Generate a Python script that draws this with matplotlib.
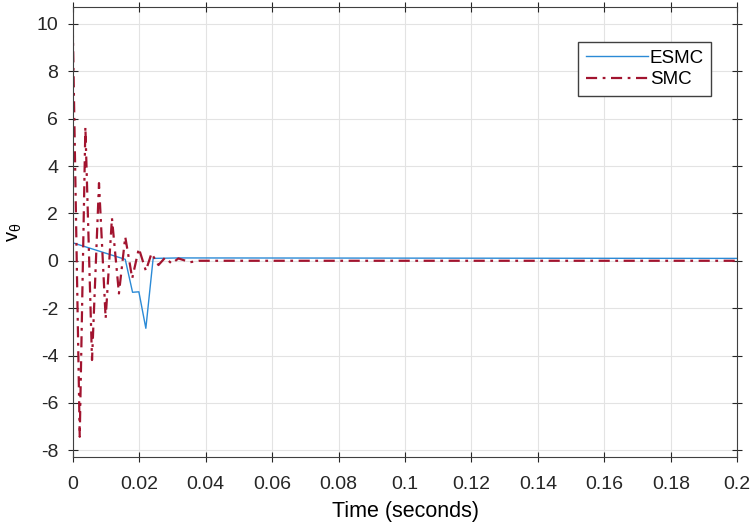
import numpy as np
import matplotlib
matplotlib.use("Agg")
import matplotlib.pyplot as plt

plt.rcParams['font.family'] = ['Liberation Sans', 'DejaVu Sans']
plt.rcParams['axes.unicode_minus'] = False
plt.rcParams['lines.scale_dashes'] = False

# SMC response (oscillating, decays by ~0.04 s)
t_smc = [0.0, 0.0021, 0.0038, 0.0058, 0.0079, 0.0099, 0.0118, 0.0139, 0.0158,
         0.0179, 0.0199, 0.0220, 0.0237, 0.0258, 0.0278, 0.0298, 0.0318,
         0.0353, 0.0380, 0.0400, 0.2]
v_smc = [9.9, -7.43, 5.65, -4.19, 3.28, -2.43, 1.80, -1.38, 1.01,
         -0.74, 0.52, -0.42, 0.31, -0.18, 0.13, -0.12, 0.10,
         -0.06, 0.0, 0.0, 0.0]

# ESMC response
t_esmc = [0.0, 0.0158, 0.0180, 0.0199, 0.0220, 0.0242, 0.0318, 0.2]
v_esmc = [0.76, 0.06, -1.33, -1.31, -2.85, 0.10, 0.12, 0.10]

xticks = [0, 0.02, 0.04, 0.06, 0.08, 0.1, 0.12, 0.14, 0.16, 0.18, 0.2]
xticklabels = ['0', '0.02', '0.04', '0.06', '0.08', '0.1', '0.12', '0.14', '0.16', '0.18', '0.2']
yticks = [-8, -6, -4, -2, 0, 2, 4, 6, 8, 10]

fig = plt.figure(figsize=(7.5, 5.27), dpi=100)
ax = fig.add_axes([0.097, 0.133, 0.886, 0.854])

ax.plot(t_esmc, v_esmc, color='#2b8ad6', lw=1.0, label='ESMC')
ax.plot(t_smc, v_smc, color='#a2142f', lw=1.6, dashes=(8, 4, 2, 4), label='SMC')

ax.set_xlim(0, 0.2)
ax.set_ylim(-8.28, 10.72)
ax.set_xticks(xticks)
ax.set_xticklabels(xticklabels)
ax.set_yticks(yticks)
ax.tick_params(direction='inout', labelsize=14, colors='#262626', top=True, right=True,
               length=7, width=0.8)
ax.tick_params(axis='x', pad=10)
ax.tick_params(axis='y', pad=7)
ax.grid(True, color='#e3e3e3', lw=0.8)
for s in ax.spines.values():
    s.set_color('#404040')

ax.set_xlabel('Time (seconds)', fontsize=15.5, labelpad=6)
ax.set_ylabel(r'v$_\mathregular{θ}$', fontsize=14.5, labelpad=9)

leg = ax.legend(loc='upper right', bbox_to_anchor=(0.961, 0.922), borderaxespad=0,
                fontsize=13.5, handlelength=3.3, handletextpad=0.1, fancybox=False,
                framealpha=1, edgecolor='#404040', borderpad=0.4, labelspacing=0.25)
leg.get_frame().set_linewidth(1.0)

fig.savefig('out.png', dpi=100)
